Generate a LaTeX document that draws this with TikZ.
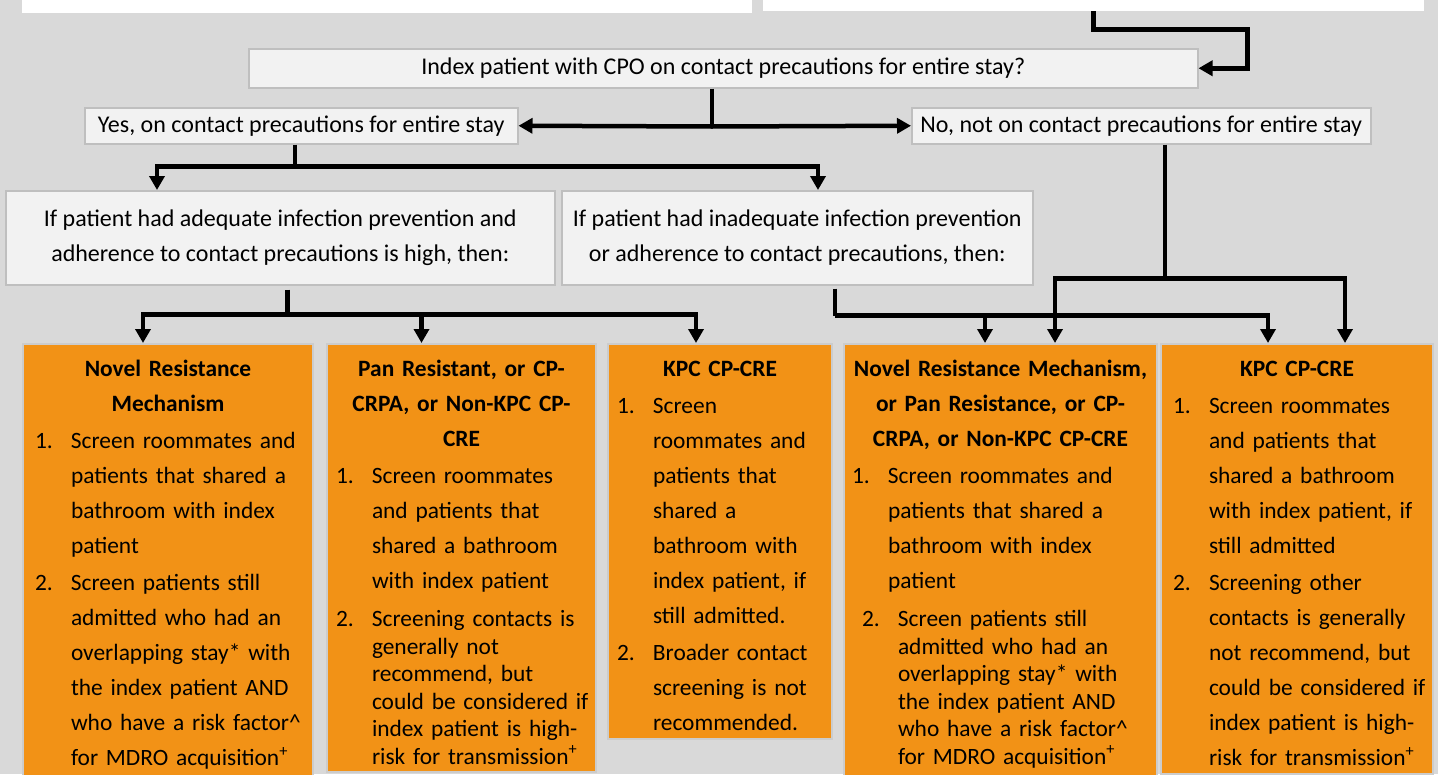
\documentclass[tikz,border=0pt]{standalone}
\usepackage{fontspec}
\setmainfont{Carlito}
\usepackage{tikz}
\usetikzlibrary{arrows.meta}

\definecolor{bgGray}{HTML}{D9D9D9}
\definecolor{boxGray}{HTML}{F2F2F2}
\definecolor{edgeGray}{HTML}{BFBFBF}
\definecolor{cpoOrange}{HTML}{F29216}

% bold centred heading and numbered item of an orange box
\newcommand{\hdr}[1]{{\centering\bfseries\strut #1\par}}
\newcommand{\numit}[3][0pt]{\par\hangindent=\dimexpr 42pt+#1\relax\hangafter=1
  \rightskip=-40pt plus 1fil
  \noindent\hspace*{\dimexpr 6pt+#1\relax}\makebox[36pt][l]{#2}{\let\\\newline #3}\par}

\begin{document}
\begin{tikzpicture}[x=1pt, y=-1pt,
  gbox/.style={anchor=north west, fill=boxGray, draw=edgeGray, line width=1.5pt,
    inner sep=0pt, font=\fontsize{24}{35}\selectfont},
  wbox/.style={anchor=north west, fill=white, inner sep=0pt},
  obox/.style={anchor=north west, fill=cpoOrange, draw=edgeGray!80, line width=2pt,
    inner xsep=6pt, inner ysep=8pt,
    font=\fontsize{23.4}{35}\selectfont\setlength{\parskip}{2pt}\setlength{\parindent}{0pt}},
  conn/.style={line width=4.5pt},
  arr/.style={conn, -{Triangle[width=15pt,length=14pt]}}]
\useasboundingbox (0,0) rectangle (1438,774);
\clip (0,0) rectangle (1438,774);
\fill[bgGray] (0,0) rectangle (1438,774);

% boxes cut off at the top
\node[wbox, minimum width=730pt, minimum height=13pt] (prevL) at (22,0) {};
\node[wbox, minimum width=661pt, minimum height=11pt] (prevR) at (763,0) {};

\node[gbox, minimum width=949pt, minimum height=39pt] (idx) at (248,48)
  {Index patient with CPO on contact precautions for entire stay?};
\node[gbox, minimum width=433pt, minimum height=36pt] (yes) at (84,107)
  {Yes, on contact precautions for entire stay};
\node[gbox, minimum width=459pt, minimum height=36pt] (no) at (911,107)
  {No, not on contact precautions for entire stay};
\node[gbox, align=center, minimum width=549pt, minimum height=94pt] (adq) at (5,190)
  {If patient had adequate infection prevention and\\adherence to contact precautions is high, then:};
\node[gbox, align=center, minimum width=471pt, minimum height=94pt] (inadq) at (561,190)
  {If patient had inadequate infection prevention\\or adherence to contact precautions, then:};

% orange boxes
\node[obox, text width=278pt] (nrm) at (22,343) {%
  \hdr{Novel Resistance\\Mechanism}
  \numit{1.}{Screen roommates and\\patients that shared a\\bathroom with index\\patient}
  \numit{2.}{Screen patients still\\admitted who had an\\overlapping stay* with\\the index patient AND\\who have a risk factor\textasciicircum\\for MDRO acquisition\textsuperscript{+}}
  \vspace*{60pt}};
\node[obox, inner xsep=3pt, text width=263pt] (pan) at (326,343) {%
  \hdr{Pan Resistant, or CP-\\CRPA, or Non-KPC CP-\\CRE}
  \numit{1.}{Screen roommates\\and patients that\\shared a bathroom\\with index patient}
  \vspace{8.5pt}
  {\fontsize{23.4}{27.5}\selectfont
  \numit{2.}{Screening contacts is\\generally not\\recommend, but\\could be considered if\\index patient is high-\\risk for transmission\textsuperscript{+}}}
  \vspace*{60pt}};
\node[obox, inner xsep=3pt, text width=218pt] (kpc) at (607,343) {%
  \hdr{KPC CP-CRE}
  \numit{1.}{Screen\\roommates and\\patients that\\shared a\\bathroom with\\index patient, if\\still admitted.}
  \numit{2.}{Broader contact\\screening is not\\recommended.}
  \vspace*{80pt}};
\node[obox, inner xsep=2pt, text width=309pt] (nrmall) at (843,343) {%
  \hdr{\mbox{Novel Resistance Mechanism,}\\\mbox{or Pan Resistance, or CP-}\\\mbox{CRPA, or Non-KPC CP-CRE}}
  \numit{1.}{Screen roommates and\\patients that shared a\\bathroom with index\\patient}
  \vspace{8.5pt}
  {\fontsize{23.4}{27.5}\selectfont
  \numit[10pt]{2.}{Screen patients still\\admitted who had an\\overlapping stay* with\\the index patient AND\\who have a risk factor\textasciicircum\\for MDRO acquisition\textsuperscript{+}}}
  \vspace*{60pt}};
\node[obox, text width=260pt] (kpcall) at (1160,343) {%
  \hdr{KPC CP-CRE}
  \numit{1.}{Screen roommates\\and patients that\\shared a bathroom\\with index patient, if\\still admitted}
  \numit{2.}{Screening other\\contacts is generally\\not recommend, but\\could be considered if\\index patient is high-\\risk for transmission\textsuperscript{+}}
  \vspace*{60pt}};

% connectors
\draw[arr] (prevR.south) -- ++(0,18) -| ([xshift=49pt]idx.east) -- (idx.east);

\draw[conn] ([xshift=-11.5pt]idx.south) -- ++(0,38) coordinate (qfork);
\draw[arr] (qfork) -- (yes.east);
\draw[arr] (qfork) -- (no.west);

\draw[conn] ([xshift=-6.5pt]yes.south) -- ++(0,22) coordinate (yfork);
\draw[arr] (yfork) -| ([xshift=152pt]adq.north west);
\draw[arr] (yfork) -| ([xshift=257pt]inadq.north west);

\draw[conn] ([xshift=7pt,yshift=-4pt]adq.south) -- ++(0,25) coordinate (afork);
\foreach \b/\d in {nrm/121, pan/95.5, kpc/89}
  \draw[arr] (afork) -| ([xshift=\d pt]\b.north west);

\draw[conn] ([xshift=37.5pt,yshift=-3pt]inadq.south) -- ++(0,27) coordinate (ifork);
\foreach \b/\d in {nrmall/142, kpcall/108}
  \draw[arr] (ifork) -| ([xshift=\d pt]\b.north west);

\draw[conn] ([xshift=23.5pt]no.south) -- ++(0,134) coordinate (nfork);
\foreach \b/\d in {nrmall/212, kpcall/185}
  \draw[arr] (nfork) -| ([xshift=\d pt]\b.north west);
\end{tikzpicture}
\end{document}
